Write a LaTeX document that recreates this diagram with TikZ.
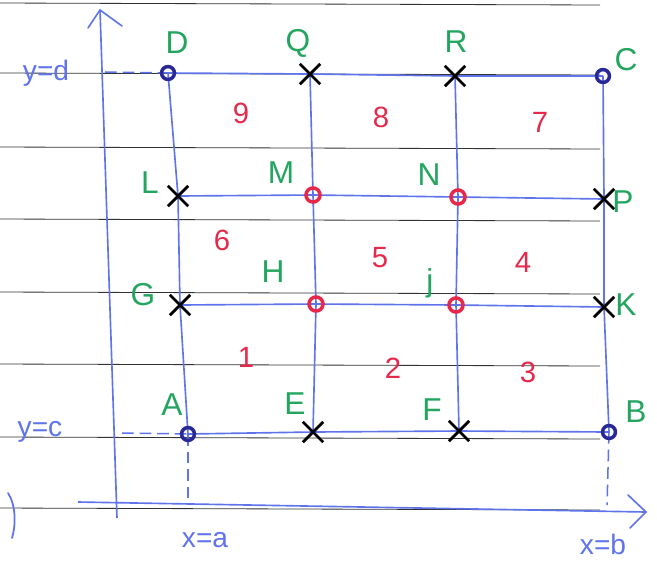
\documentclass[tikz,border=0pt]{standalone}
\usepackage{fontspec}
\setmainfont{Liberation Sans}
\usetikzlibrary{shapes.misc}
\definecolor{pen}{RGB}{95,115,235}
\definecolor{dpen}{RGB}{40,40,150}
\definecolor{rpen}{RGB}{230,40,75}
\definecolor{gpen}{RGB}{35,165,95}
\begin{document}
\begin{tikzpicture}[x=0.03cm,y=-0.03cm,
  gridline/.style={pen,line width=1.4pt},
  paper/.style={black!80,line width=0.7pt},
  dashline/.style={pen,line width=1.3pt,dash pattern=on 10pt off 5pt},
  bdot/.style={circle,draw=dpen,line width=3pt,inner sep=0pt,minimum size=11pt},
  rdot/.style={circle,draw=rpen,line width=3pt,inner sep=0pt,minimum size=12pt},
  xmark/.style={cross out,draw=black,line width=2.4pt,inner sep=0pt,minimum size=15pt},
  lab/.style={text=gpen,font=\fontsize{27}{27}\selectfont},
  num/.style={text=rpen,font=\fontsize{25}{25}\selectfont},
  axlab/.style={text=pen,font=\fontsize{24}{24}\selectfont}]
\useasboundingbox (0,0) rectangle (657,574);
% paper lines
\foreach \yy in {3,73,147,219,292,364,437,508}
  \draw[paper] (0,\yy) -- (600,\yy+2);
% axes
\coordinate (y0) at (117,518);
\coordinate (y1) at (100,10);
\coordinate (x0) at (78,502);
\coordinate (x1) at (646,512);
\draw[gridline] (y0) -- (y1);
\draw[gridline,line cap=round] (88,28) -- (y1) -- (122,26);
\draw[gridline] (x0) -- (x1);
\draw[gridline,line cap=round] (628,495) -- (x1) -- (630,528);
% grid points
\coordinate (D) at (168,73);
\coordinate (Q) at (310,74);
\coordinate (R) at (455,76);
\coordinate (C) at (603,76);
\coordinate (L) at (178,196);
\coordinate (M) at (313,195);
\coordinate (N) at (458,197);
\coordinate (P) at (604,199);
\coordinate (G) at (180,305);
\coordinate (H) at (316,304);
\coordinate (J) at (456,305);
\coordinate (K) at (604,307);
\coordinate (A) at (188,434);
\coordinate (E) at (313,432);
\coordinate (F) at (459,431);
\coordinate (B) at (609,432);
% grid lines
\draw[gridline] (D) -- (Q) -- (R) -- (C);
\draw[gridline] (L) -- (M) -- (N) -- (P);
\draw[gridline] (G) -- (H) -- (J) -- (K);
\draw[gridline] (A) -- (E) -- (F) -- (B);
\draw[gridline] (D) -- (L) -- (G) -- (A);
\draw[gridline] (Q) -- (M) -- (H) -- (E);
\draw[gridline] (R) -- (N) -- (J) -- (F);
\draw[gridline] (C) -- (P) -- (K) -- (B);
% dashed guides
\coordinate (dl) at (105,72);
\coordinate (cl) at (122,433);
\coordinate (ad) at (188,505);
\coordinate (bd) at (607,505);
\draw[dashline] (dl) -- (D);
\draw[dashline] (cl) -- (A);
\draw[dashline] (A) -- (ad);
\draw[dashline] (B) -- (bd);
% markers
\node[bdot] (mD) at (D) {};
\node[bdot] (mC) at (C) {};
\node[bdot] (mA) at (A) {};
\node[bdot] (mB) at (B) {};
\node[rdot] (mM) at (M) {};
\node[rdot] (mN) at (N) {};
\node[rdot] (mH) at (H) {};
\node[rdot] (mJ) at (J) {};
\node[xmark] (mQ) at (Q) {};
\node[xmark] (mR) at (R) {};
\node[xmark] (mL) at (L) {};
\node[xmark] (mP) at (P) {};
\node[xmark] (mG) at (G) {};
\node[xmark] (mK) at (K) {};
\node[xmark] (mE) at (E) {};
\node[xmark] (mF) at (F) {};
% point labels
\node[lab] (tD) at (177,43) {D};
\node[lab] (tQ) at (298,43) {Q};
\node[lab] (tR) at (456,42) {R};
\node[lab] (tC) at (626,60) {C};
\node[lab] (tL) at (150,183) {L};
\node[lab] (tM) at (281,173) {M};
\node[lab] (tN) at (429,175) {N};
\node[lab] (tP) at (623,202) {P};
\node[lab] (tG) at (143,295) {G};
\node[lab] (tH) at (273,272) {H};
\node[lab] (tJ) at (430,283) {j};
\node[lab] (tK) at (626,305) {K};
\node[lab] (tA) at (172,405) {A};
\node[lab] (tE) at (295,404) {E};
\node[lab] (tF) at (432,410) {F};
\node[lab] (tB) at (636,412) {B};
% region numbers
\node[num] (n9) at (241,113) {9};
\node[num] (n8) at (381,117) {8};
\node[num] (n7) at (540,122) {7};
\node[num] (n6) at (222,240) {6};
\node[num] (n5) at (380,258) {5};
\node[num] (n4) at (523,262) {4};
\node[num] (n1) at (246,357) {1};
\node[num] (n2) at (393,368) {2};
\node[num] (n3) at (528,372) {3};
% axis labels
\node[axlab] (ld) at (46,73) {y=d};
\node[axlab] (lc) at (40,432) {y=c};
\node[axlab] (la) at (205,540) {x=a};
\node[axlab] (lb) at (603,544) {x=b};
% stray mark
\draw[pen,line width=1.5pt,line cap=round] (8,493) .. controls (16,505) and (16,525) .. (12,538);
\end{tikzpicture}
\end{document}
